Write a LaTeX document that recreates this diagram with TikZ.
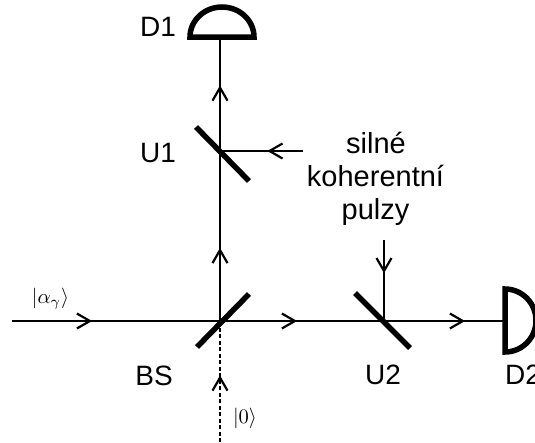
\documentclass[tikz,border=0pt]{standalone}
\usepackage{fontspec}
\setmainfont{Liberation Sans}
\usetikzlibrary{arrows.meta,decorations.markings}
\tikzset{
    beam/.style={line width=2.2pt},
    vacuum/.style={beam,dash pattern=on 4pt off 2.5pt},
    arrowat/.style={postaction={decorate},decoration={markings,
        mark=at position #1 with {\arrow{Straight Barb[length=13pt,width=15pt,line width=2.2pt]}}}},
    mirrorbar/.style={line width=5.5pt},
    detector/.style={line width=5.5pt,fill=white},
    tag/.style={font=\fontsize{28}{30}\selectfont,inner sep=0pt,anchor=base},
    ket/.style={scale=2.05,inner sep=0pt}
}
\begin{document}
\begin{tikzpicture}[x=1pt,y=-1pt]
    \useasboundingbox (0,0) rectangle (535,442);
    \clip (0,0) rectangle (535,442);

    \coordinate (in) at (12,321);
    \coordinate (BS) at (220,321);
    \coordinate (U1) at (220,151);
    \coordinate (U2) at (384,321);
    \coordinate (D1) at (220,38);
    \coordinate (D2) at (505,321);
    \coordinate (vac) at (220,442);
    \coordinate (pump1) at (303,151);
    \coordinate (pump2) at (384,240);

    \path [beam,arrowat=0.385,draw] (in) -- (BS);
    \path [beam,arrowat=0.47,draw] (BS) -- (U2);
    \path [beam,arrowat=0.67,draw] (U2) -- (D2);
    \path [beam,arrowat=0.43,draw] (BS) -- (U1);
    \path [beam,arrowat=0.58,draw] (U1) -- (D1);
    \path [beam,arrowat=0.43,draw] (pump1) -- (U1);
    \path [beam,arrowat=0.41,draw] (pump2) -- (U2);
    \path [vacuum,arrowat=0.55,draw] (vac) -- (BS);

    \draw [mirrorbar] (197,347) -- (249,294);
    \draw [mirrorbar] (196,127) -- (249,181);
    \draw [mirrorbar] (355,293) -- (410,348);

    \draw [detector] (190,37) arc[start angle=180,end angle=360,x radius=32,y radius=30] -- cycle;
    \draw [detector] (505,289) arc[start angle=-90,end angle=90,x radius=31,y radius=31.5] -- cycle;

    \begin{scope}[every node/.style={tag}]
        \node (labD1) at (158,36) {D1};
        \node (labU1) at (158,162) {U1};
        \node (labBS) at (154,385) {BS};
        \node (labU2) at (383,384) {U2};
        \node [anchor=base west] (labD2) at (505,384) {D2};
    \end{scope}

    \begin{scope}[every node/.style={tag,font=\fontsize{29}{30}\selectfont}]
        \node (labS1) at (376,153) {silné};
        \node (labS2) at (375.5,186) {koherentní};
        \node (labS3) at (375.5,219) {pulzy};
    \end{scope}

    \begin{scope}[every node/.style={ket}]
        \node (labA) at (50.5,299) {$|\alpha_\gamma\rangle$};
        \node (lab0) at (245,418) {$|0\rangle$};
    \end{scope}
\end{tikzpicture}
\end{document}
